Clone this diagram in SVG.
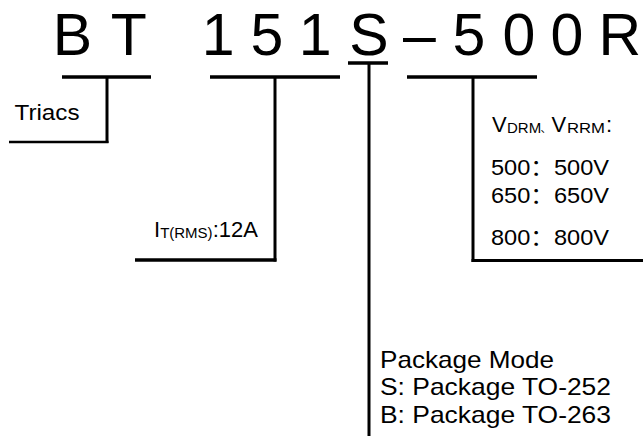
<svg xmlns="http://www.w3.org/2000/svg" width="643" height="443" viewBox="0 0 643 443">
<style>
.t{font-family:"Liberation Sans","Noto Sans CJK SC",Arial,sans-serif;fill:#000}
.title{font-size:59px}
.lbl{font-size:22px}
.pk{font-size:24px}
.sub{font-size:15px}
.ln{stroke:#000;fill:none;stroke-linecap:butt}
.h{stroke-width:3.5}
.v{stroke-width:3}
</style>
<rect width="643" height="443" fill="#fff"/>
<g id="title">
<text class="t title" y="55" x="52.8 110.7 201.7 250.6 298.7 349.3 403 452.6 502.6 550.6 598.5">BT151S–500R</text>
</g>
<g id="triacs">
<text class="t lbl" x="14.5" y="120" textLength="65" lengthAdjust="spacingAndGlyphs">Triacs</text>
</g>
<g id="current">
<text class="t lbl" x="154" y="237" font-size="23.5">I<tspan class="sub" dy="1">T(RMS)</tspan><tspan dy="-1">:12A</tspan></text>
</g>
<g id="voltage">
<text class="t lbl" y="132"><tspan x="492">V</tspan><tspan class="sub" x="507" dy="1">DRM</tspan><tspan x="540.5" font-size="11" dy="-1">、</tspan><tspan x="551.5">V</tspan><tspan class="sub" x="567" dy="1" textLength="38" lengthAdjust="spacingAndGlyphs">RRM</tspan><tspan x="606" dy="-1">:</tspan></text>
<text class="t lbl" x="491" y="175" textLength="118" lengthAdjust="spacingAndGlyphs">500：500V</text>
<text class="t lbl" x="491" y="203" textLength="118" lengthAdjust="spacingAndGlyphs">650：650V</text>
<text class="t lbl" x="491" y="245" textLength="118" lengthAdjust="spacingAndGlyphs">800：800V</text>
</g>
<g id="package">
<text class="t pk" x="380" y="368" textLength="174" lengthAdjust="spacingAndGlyphs">Package Mode</text>
<text class="t pk" x="380" y="395" textLength="231" lengthAdjust="spacingAndGlyphs">S: Package TO-252</text>
<text class="t pk" x="380" y="423" textLength="231" lengthAdjust="spacingAndGlyphs">B: Package TO-263</text>
</g>
<g id="connectors">
<line class="ln h" x1="62" y1="77" x2="151" y2="77"/>
<line class="ln v" x1="107" y1="77" x2="107" y2="143"/>
<line class="ln" stroke-width="2.5" x1="9" y1="142" x2="108.5" y2="142"/>
<line class="ln h" x1="210" y1="77" x2="340" y2="77"/>
<line class="ln v" x1="275" y1="77" x2="275" y2="261.5"/>
<line class="ln h" x1="135" y1="260" x2="276.5" y2="260"/>
<line class="ln h" x1="348" y1="63" x2="388" y2="63"/>
<line class="ln v" x1="369" y1="63" x2="369" y2="436"/>
<line class="ln h" x1="407" y1="77" x2="537" y2="77"/>
<line class="ln v" x1="473" y1="77" x2="473" y2="262"/>
<line class="ln" stroke-width="3" x1="471.5" y1="260.5" x2="643" y2="260.5"/>
</g>
</svg>
